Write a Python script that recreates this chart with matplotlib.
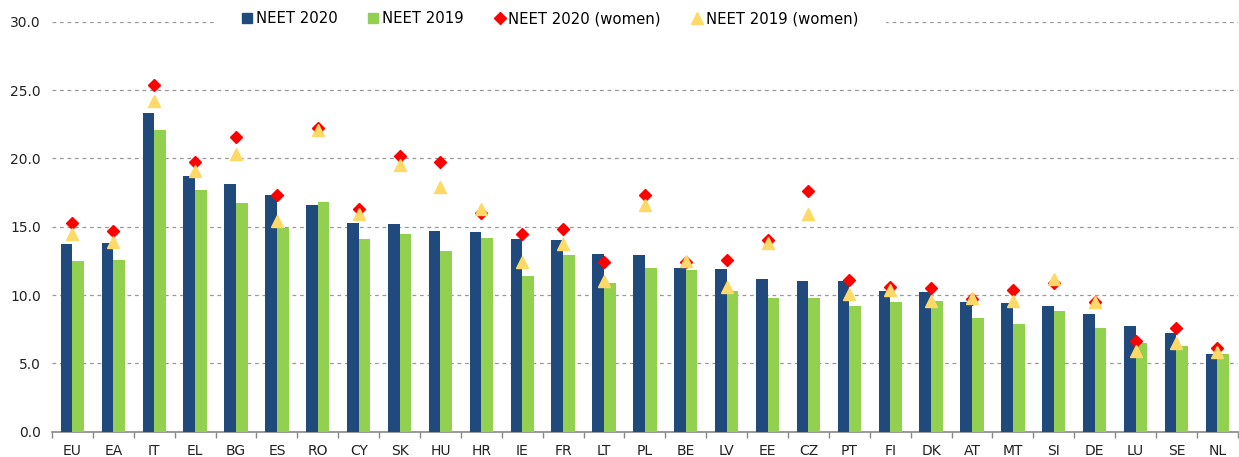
import matplotlib
matplotlib.use("Agg")
import matplotlib.pyplot as plt
from matplotlib.lines import Line2D
import numpy as np

categories = ["EU", "EA", "IT", "EL", "BG", "ES", "RO", "CY", "SK", "HU", "HR", "IE", "FR", "LT", "PL",
              "BE", "LV", "EE", "CZ", "PT", "FI", "DK", "AT", "MT", "SI", "DE", "LU", "SE", "NL"]
neet_2020 = [13.7, 13.8, 23.3, 18.7, 18.1, 17.3, 16.6, 15.3, 15.2, 14.7, 14.6, 14.1, 14.0, 13.0, 12.9,
             12.0, 11.9, 11.2, 11.0, 11.0, 10.3, 10.2, 9.5, 9.4, 9.2, 8.6, 7.7, 7.2, 5.7]
neet_2019 = [12.5, 12.6, 22.1, 17.7, 16.7, 14.9, 16.8, 14.1, 14.5, 13.2, 14.2, 11.4, 12.9, 10.9, 12.0,
             11.8, 10.3, 9.8, 9.8, 9.2, 9.5, 9.6, 8.3, 7.9, 8.8, 7.6, 6.5, 6.3, 5.7]
neet_2020_women = [15.3, 14.7, 25.4, 19.7, 21.6, 17.3, 22.2, 16.3, 20.2, 19.7, 16.0, 14.5, 14.8, 12.4, 17.3,
                   12.4, 12.6, 14.0, 17.6, 11.1, 10.6, 10.5, 9.7, 10.4, 10.9, 9.5, 6.6, 7.6, 6.1]
neet_2019_women = [14.5, 13.9, 24.2, 19.1, 20.3, 15.4, 22.1, 15.9, 19.5, 17.9, 16.3, 12.4, 13.7, 11.0, 16.6,
                   12.5, 10.6, 13.8, 15.9, 10.1, 10.4, 9.6, 9.8, 9.6, 11.2, 9.5, 5.9, 6.5, 5.8]
y_ticks = [0, 5, 10, 15, 20, 25, 30]

plt.rcParams['font.family'] = ['DejaVu Sans']

BLUE = "#214A7C"
GREEN = "#92D050"
RED = "#FF0000"
YELLOW = "#FFD966"

fig = plt.figure(figsize=(12.39, 4.57), dpi=100)
ax = fig.add_axes([0.042, 0.0554, 0.957, 0.897])

x = np.arange(len(categories))
w = 0.285
ax.bar(x - w / 2, neet_2020, width=w, color=BLUE, zorder=3)
ax.bar(x + w / 2, neet_2019, width=w, color=GREEN, zorder=3)
ax.plot(x, neet_2020_women, linestyle="none", marker="D", markersize=6.5, color=RED, zorder=4)
ax.plot(x, neet_2019_women, linestyle="none", marker="^", markersize=9, color=YELLOW, zorder=5)

ax.set_xlim(-0.5, len(categories) - 0.5)
ax.set_ylim(0, 30)
ax.set_yticks(y_ticks)
ax.set_yticklabels([f"{v:.1f}" for v in y_ticks], fontsize=10, color="#222222")
ax.set_xticks(x)
ax.set_xticklabels(categories, fontsize=10, color="#222222")
ax.set_xticks(np.arange(-0.5, len(categories)), minor=True)
ax.tick_params(axis="x", which="major", length=0, pad=9)
ax.tick_params(axis="x", which="minor", length=4, color="#888888", width=1)
ax.tick_params(axis="y", length=0, pad=8)

ax.yaxis.grid(True, linestyle=(0, (3, 3)), color="#999999", linewidth=0.9, zorder=0)
for s in ["left", "right", "top"]:
    ax.spines[s].set_visible(False)
ax.spines["bottom"].set_color("#888888")
ax.spines["bottom"].set_linewidth(1.2)

handles = [
    Line2D([], [], linestyle="none", marker="s", markersize=7.5, color=BLUE),
    Line2D([], [], linestyle="none", marker="s", markersize=7.5, color=GREEN),
    Line2D([], [], linestyle="none", marker="D", markersize=6.5, color=RED),
    Line2D([], [], linestyle="none", marker="^", markersize=9, color=YELLOW),
]
labels = ["NEET 2020", "NEET 2019", "NEET 2020 (women)", "NEET 2019 (women)"]
leg = ax.legend(handles, labels, ncol=4, loc="center", bbox_to_anchor=(0.4195, 1.0 + 3.0 / 409),
                frameon=True, fancybox=False, edgecolor="white", framealpha=1.0, fontsize=10.7,
                handlelength=0.8, handletextpad=0.2, columnspacing=2.0, borderpad=1.85,
                borderaxespad=0)
leg.set_zorder(10)

fig.savefig("out.png", dpi=100)
